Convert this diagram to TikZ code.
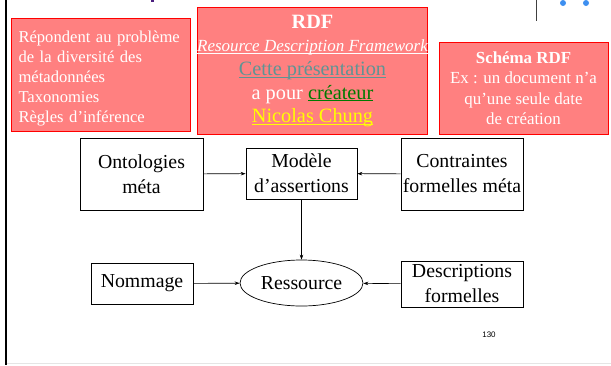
\documentclass[tikz,border=0pt]{standalone}
\usepackage{fontspec}
\setmainfont{Liberation Serif}
\setsansfont{Liberation Sans}
\usetikzlibrary{arrows.meta,shapes.geometric}
\definecolor{boxfill}{HTML}{FF8080}
\definecolor{boxline}{HTML}{FF0000}
\definecolor{linkgray}{HTML}{5F9494}
\definecolor{linkgreen}{HTML}{007A00}
\definecolor{linkyellow}{HTML}{FFFF00}
\definecolor{dotblue}{HTML}{3D8FF0}
\definecolor{titlepurple}{HTML}{4B1F7F}
\newcommand\myul[1]{\setbox0\hbox{#1}\rlap{\rule[-2.2pt]{\wd0}{0.9pt}}\box0}
\begin{document}
\begin{tikzpicture}[x=1pt,y=-1pt,
  redbox/.style={draw=boxline, fill=boxfill, line width=1pt, text=white, inner sep=0pt},
  plainbox/.style={draw=black, line width=0.7pt, align=center, inner sep=0pt,
    font=\fontsize{19.8}{25}\selectfont},
  arr/.style={-{Stealth[length=5pt,width=3.5pt]}, line width=0.6pt}]
\useasboundingbox (0,0) rectangle (611,365);
% decorations of the slide
\draw[line width=2pt] (6,0) -- (6,365);
\draw[black!10, line width=1pt] (7,363.5) -- (611,363.5);
\draw[black!75, line width=0.8pt] (536,0) -- (536,21);
\fill[dotblue] (563,3) circle (3);
\fill[dotblue] (586,3) circle (3);
\fill[titlepurple] (151,0) rectangle (154,2);
% red boxes
\node[redbox, anchor=north west, minimum width=179pt, minimum height=113pt] (why) at (11,18) {};
\node[text=white, inner sep=0pt, text width=165pt, align=left,
  font=\fontsize{16.6}{20}\selectfont] (whytext) at ([yshift=-4pt]why.center)
  {Répondent au problème\\de la diversité des\\métadonnées\\Taxonomies\\Règles d’inférence};
\node[redbox, minimum width=229pt, minimum height=127pt, align=center,
  font=\fontsize{20.3}{23.6}\selectfont] (rdf) at (312.5,71)
  {\textbf{RDF}\\
   {\fontsize{17}{20}\selectfont\itshape\myul{Resource Description Framework}}\\
   {\color{linkgray}\myul{Cette présentation}}\\
   a pour {\color{linkgreen}\myul{créateur}}\\
   {\color{linkyellow}\myul{Nicolas Chung}}};
\node[redbox, minimum width=169pt, minimum height=92pt, align=center,
  font=\fontsize{16.9}{20.5}\selectfont] (schema) at (523.5,88)
  {\textbf{Schéma RDF}\\Ex : un document n’a\\qu’une seule date\\de création};
% diagram
\node[plainbox, minimum width=123pt, minimum height=72pt] (onto) at (141.5,174) {Ontologies\\méta};
\node[plainbox, minimum width=111pt, minimum height=51pt] (model) at (301.5,173.5) {Modèle\\d’assertions};
\node[plainbox, minimum width=122pt, minimum height=72pt] (contr) at (462,174) {Contraintes\\formelles méta};
\node[plainbox, minimum width=102pt, minimum height=41pt] (nomm) at (142,283.5) {Nommage};
\node[plainbox, ellipse, minimum width=123pt, minimum height=46pt] (res) at (301.5,283) {Ressource};
\node[plainbox, minimum width=122pt, minimum height=46pt] (desc) at (462,284) {Descriptions\\formelles};
\draw[arr] (onto) -- (model);
\draw[arr] (contr) -- (model);
\draw[arr] (model) -- (res);
\draw[arr] (nomm) -- (res);
\draw[arr] (desc) -- (res);
\node[font=\sffamily\fontsize{8}{10}\selectfont] (pg) at (489,335) {130};
\end{tikzpicture}
\end{document}
